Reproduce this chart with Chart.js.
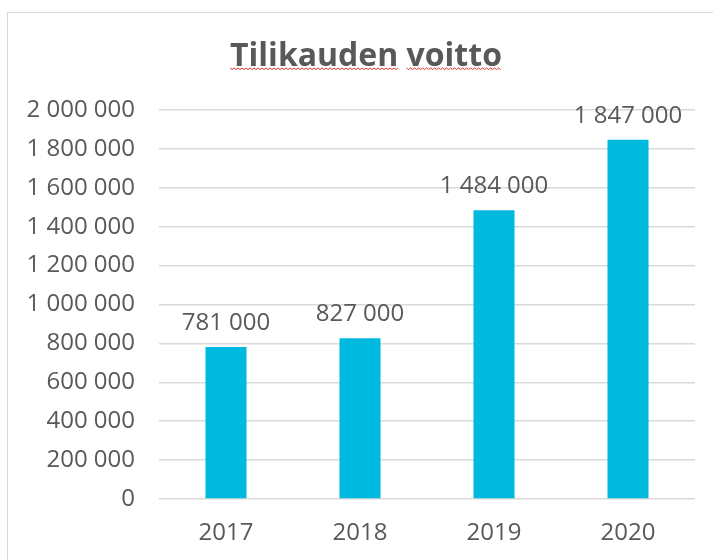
<!DOCTYPE html>
<html lang="fi">
<head>
<meta charset="utf-8">
<script src="https://cdn.jsdelivr.net/npm/chart.js@4"></script>
<style>
  html, body { margin: 0; padding: 0; background: #fff; overflow: hidden; }
  #kehys {
    position: absolute; left: 7px; top: 12px; width: 720px; height: 560px;
    border: 1px solid #d9d9d9; box-sizing: border-box;
  }
  #kaavio { position: absolute; left: 8px; top: 13px; }
</style>
</head>
<body>
<div id="kehys"></div>
<canvas id="kaavio" width="716" height="547"></canvas>
<script>
const vuodet = ["2017", "2018", "2019", "2020"];
const voitot = [781000, 827000, 1484000, 1847000];
const otsikko = "Tilikauden voitto";

const harmaa = "#595959";
const fontti = "'Open Sans', 'Noto Sans', sans-serif";

function muotoile(luku) {
  return String(luku).replace(/\B(?=(\d{3})+(?!\d))/g, " ");
}

// arvot pylvaiden paalle
const arvoLaput = {
  id: "arvoLaput",
  afterDatasetsDraw(chart) {
    const ctx = chart.ctx;
    const meta = chart.getDatasetMeta(0);
    ctx.save();
    ctx.font = "24px " + fontti;
    ctx.fillStyle = harmaa;
    ctx.textAlign = "center";
    ctx.textBaseline = "middle";
    meta.data.forEach((pylvas, i) => {
      ctx.fillText(muotoile(voitot[i]), pylvas.x, pylvas.y - 24);
    });
    ctx.restore();
  }
};

// otsikko koko kehyksen keskelle + punainen aaltoviiva sen alle
const otsikkoPiirto = {
  id: "otsikkoPiirto",
  afterDraw(chart) {
    const ctx = chart.ctx;
    const keski = chart.width / 2;
    const yKeski = 44;
    ctx.save();
    ctx.font = "bold 32px " + fontti;
    ctx.fillStyle = harmaa;
    ctx.textAlign = "center";
    ctx.textBaseline = "middle";
    ctx.fillText(otsikko, keski, yKeski);

    const koko = ctx.measureText(otsikko).width;
    const y = yKeski + 11;
    ctx.strokeStyle = "#e03030";
    ctx.lineWidth = 1;
    let x = keski - koko / 2;
    otsikko.split(" ").forEach((sana) => {
      const w = ctx.measureText(sana).width;
      ctx.beginPath();
      for (let k = 0; k <= w; k += 2) {
        const yy = y + ((k / 2) % 2 === 0 ? 0 : 1.5);
        if (k === 0) ctx.moveTo(x + k, yy); else ctx.lineTo(x + k, yy);
      }
      ctx.stroke();
      x += w + ctx.measureText(" ").width;
    });
    ctx.restore();
  }
};

new Chart(document.getElementById("kaavio"), {
  type: "bar",
  data: {
    labels: vuodet,
    datasets: [{
      data: voitot,
      backgroundColor: "#00B9DE",
      borderWidth: 0,
      categoryPercentage: 1,
      barPercentage: 0.306
    }]
  },
  options: {
    responsive: false,
    animation: false,
    layout: { padding: { left: 0, right: 29, top: 97, bottom: 0 } },
    plugins: {
      legend: { display: false },
      tooltip: { enabled: false },
      title: { display: false }
    },
    scales: {
      x: {
        afterFit(scale) { scale.height = 61; },
        grid: { display: false, drawTicks: false },
        border: { display: false },
        ticks: {
          color: harmaa,
          font: { family: fontti, size: 24 },
          padding: 19.6
        }
      },
      y: {
        min: 0,
        max: 2000000,
        afterFit(scale) { scale.width = 151; },
        grid: { color: "#d9d9d9", lineWidth: 1.5, drawTicks: false },
        border: { display: false },
        ticks: {
          stepSize: 200000,
          color: harmaa,
          font: { family: fontti, size: 24 },
          padding: 24,
          callback: (v) => muotoile(v)
        }
      }
    }
  },
  plugins: [arvoLaput, otsikkoPiirto]
});
</script>
</body>
</html>
